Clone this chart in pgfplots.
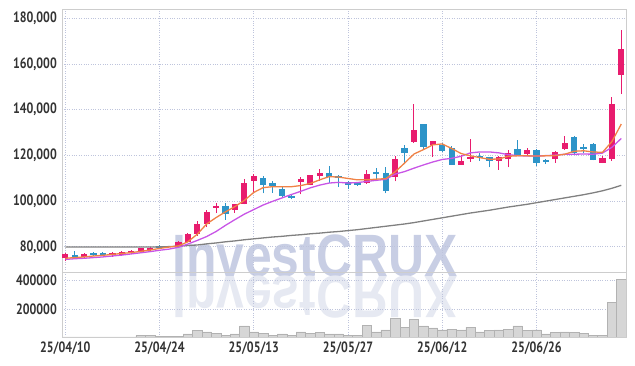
\documentclass[border=0pt]{standalone}
\usepackage{pgfplots}
\pgfplotsset{compat=1.18}
\usepackage{pgfplotstable}
\usepackage{fontspec}
\setmainfont{PT Sans}
\newfontfamily\wmfont{Liberation Sans}
\definecolor{upc}{RGB}{232,28,110}
\definecolor{dnc}{RGB}{45,148,200}
\definecolor{maA}{RGB}{240,130,70}
\definecolor{maB}{RGB}{200,85,230}
\definecolor{maC}{RGB}{128,128,128}
\definecolor{gridc}{RGB}{190,196,220}
\definecolor{framec}{RGB}{205,205,205}
\definecolor{wm}{RGB}{200,206,228}
\definecolor{wmr}{RGB}{230,233,242}
\definecolor{volf}{RGB}{214,214,214}
\definecolor{vold}{RGB}{178,178,178}

\pgfplotstableread{
i o h l c
0 75000 77200 74000 77000
2 75500 77300 75300 76900
5 76400 77800 75600 77500
6 76400 78000 76000 77800
7 77200 78600 77000 78400
8 77800 79700 77600 79500
9 78900 79800 78300 79500
11 79900 80500 79600 80400
12 80400 82600 80200 82200
13 82200 86200 82000 85700
14 85700 91200 84800 90000
15 89800 96200 88600 95300
16 97200 99100 94700 97900
18 96200 98900 95000 98800
19 98800 109500 98600 108100
20 108700 111900 104100 111000
25 108400 110700 102900 109500
26 106900 111600 106900 111600
27 111000 114200 109000 112200
32 107800 113600 107500 111900
35 110400 119700 108600 118300
37 125800 142400 125500 131100
39 124700 126400 119400 126400
42 116000 120000 115800 117700
43 118500 127300 117100 119400
46 117700 119800 113600 119400
47 118300 122200 114800 120900
49 120600 123200 120300 122400
52 118300 121800 116800 121500
53 122700 128500 122400 125300
57 116800 119700 116600 118900
58 118600 145600 117700 142400
59 155200 174800 146800 166300
}\upcandles

\pgfplotstableread{
i o h l c
1 76400 78200 75600 75800
3 77500 77700 76200 76400
4 77500 77700 76000 76400
10 80200 80600 79500 79700
17 97900 99100 91800 94400
21 110100 111000 103400 107200
22 107800 109000 103700 106600
23 105500 106200 101800 102300
24 102300 103000 100800 101700
28 112200 115400 107800 110700
29 111000 111500 106100 110100
30 108400 108700 105200 106900
31 108100 108500 106600 107200
33 112800 114500 108600 112200
34 112200 114800 103400 104600
36 123200 124400 116800 121200
38 133700 133700 122700 123500
40 124700 125200 121500 121800
41 123200 124100 115700 116000
44 119700 120900 117600 118900
45 119100 119500 114800 117700
48 122700 126700 119800 120000
50 122400 122600 115500 116800
51 118000 118300 116200 117100
54 128200 128400 120300 120900
55 123800 125000 121000 122900
56 125000 125200 117800 118000
}\downcandles

\pgfplotstableread{
i a b g
0 75000 74500 79900
1 75300 74800 79900
2 75600 75000 79900
3 76000 75300 79900
4 76300 75600 79900
5 76700 76000 79900
6 77100 76400 79900
7 77500 76900 79900
8 78000 77400 79900
9 78600 77900 79900
10 79300 78500 80000
11 79900 79000 80100
12 80400 79800 80300
13 82200 81200 80600
14 85500 82800 80800
15 90000 84500 81300
16 92800 86700 81700
17 95300 89400 82200
18 97600 91900 82600
19 100300 94300 83100
20 103800 96300 83500
21 105900 98300 83900
22 106300 99900 84300
23 106300 101400 84600
24 106300 102900 85000
25 106800 104300 85300
26 107700 105800 85700
27 109300 107000 86000
28 110700 107900 86400
29 110500 108200 86700
30 109900 107900 87100
31 109300 108100 87500
32 109300 108600 88000
33 109600 109100 88500
34 109800 109500 89000
35 112800 111800 89500
36 116600 112900 90000
37 120600 114400 90600
38 122500 115800 91300
39 124600 117100 92000
40 125000 118200 92700
41 123000 118700 93400
42 120800 119600 94100
43 119800 121100 94800
44 119000 121500 95400
45 118300 121500 96000
46 118400 121100 96700
47 119600 120300 97400
48 119800 119900 98000
49 119800 119700 98600
50 119700 119700 99300
51 119800 119900 100000
52 119900 120100 100700
53 120500 120500 101400
54 121800 120500 102100
55 122000 120600 102800
56 121500 120500 103600
57 121300 121000 104500
58 126000 123500 105600
59 133700 127400 106900
}\mas

\pgfplotstableread{
i v
0 1500
1 1500
2 1500
3 1500
4 1500
5 1500
6 1500
7 1500
8 9000
9 9000
10 2000
11 7000
12 7000
13 23000
14 46000
15 37000
16 28000
17 14000
18 23000
19 79000
20 37000
21 28000
22 14000
23 23000
24 14000
25 37000
26 28000
27 33000
28 23000
29 23000
30 14000
31 14000
32 84000
33 37000
34 51000
35 135000
36 70000
37 126000
38 79000
39 65000
40 51000
41 56000
42 51000
43 70000
44 37000
45 46000
46 51000
47 56000
48 79000
49 46000
50 51000
51 23000
52 33000
53 37000
54 33000
55 28000
56 14000
57 14000
58 246000
59 410000
}\vol

\pgfplotsset{
  common/.style={
    scale only axis, width=564bp,
    xmin=-0.35, xmax=59.5,
    axis line style={framec, line width=0.8pt},
    major tick length=0pt,
    grid=major, grid style={gridc, dotted, line width=0.7pt},
    xtick={0,10,20,30,40,50},
    tick label style={font=\bfseries\fontsize{15}{16}\selectfont, text=black!80, xscale=0.8},
    /pgf/number format/assume math mode=true,
    scaled y ticks=false,
    clip=true,
  },
  wick/.style={draw=none, mark=none, forget plot,
    error bars/.cd, y dir=plus, y explicit, error mark=none,
    error bar style={draw=#1, solid, line width=1pt}},
  body/.style={draw=none, mark=none, forget plot,
    error bars/.cd, y dir=both, y explicit, error mark=none,
    error bar style={draw=#1, solid, line width=6.3bp}},
}

\begin{document}
\begin{tikzpicture}
\path[use as bounding box] (0,0) rectangle (635bp,366bp);
\node[anchor=base west, inner sep=0, xscale=0.834, text=wm, font=\wmfont\bfseries\fontsize{60}{60}\selectfont] at (172bp,89bp) {InvestCRUX};
\node[anchor=base west, inner sep=0, xscale=0.834, yscale=-1, text=wmr, font=\wmfont\bfseries\fontsize{60}{60}\selectfont] at (172bp,89bp) {InvestCRUX};

\begin{axis}[common, at={(62bp,94bp)}, anchor=south west, height=263bp,
  ymin=69000, ymax=184000,
  ytick={80000,100000,120000,140000,160000,180000},
  xticklabels={},
  yticklabel style={xshift=-3bp, /pgf/number format/.cd, fixed, precision=0, 1000 sep={,}},
]
\addplot[wick=upc] table[x=i, y=l, y error plus expr=\thisrow{h}-\thisrow{l}] {\upcandles};
\addplot[wick=dnc] table[x=i, y=l, y error plus expr=\thisrow{h}-\thisrow{l}] {\downcandles};
\addplot[body=upc] table[x=i, y expr=0.5*(\thisrow{o}+\thisrow{c}), y error expr=0.5*abs(\thisrow{c}-\thisrow{o})] {\upcandles};
\addplot[body=dnc] table[x=i, y expr=0.5*(\thisrow{o}+\thisrow{c}), y error expr=0.5*abs(\thisrow{c}-\thisrow{o})] {\downcandles};
\addplot[maC, line width=1.3pt] table[x=i, y=g] {\mas};
\addplot[maB, line width=1.3pt] table[x=i, y=b] {\mas};
\addplot[maA, line width=1.3pt] table[x=i, y=a] {\mas};
\end{axis}

\begin{axis}[common, at={(62bp,29bp)}, anchor=south west, height=65bp,
  ymin=0, ymax=462000,
  ytick={200000,400000},
  xticklabels={25/04/10,25/04/24,25/05/13,25/05/27,25/06/12,25/06/26},
  xticklabel style={yshift=-1.5bp},
  yticklabel style={xshift=-3bp, /pgf/number format/.cd, fixed, precision=0, 1000 sep={}},
]
\addplot[ybar, bar width=1, bar shift=0pt, fill=volf, draw=vold, line width=0.5pt] table[x=i, y=v] {\vol};
\end{axis}
\end{tikzpicture}
\end{document}
